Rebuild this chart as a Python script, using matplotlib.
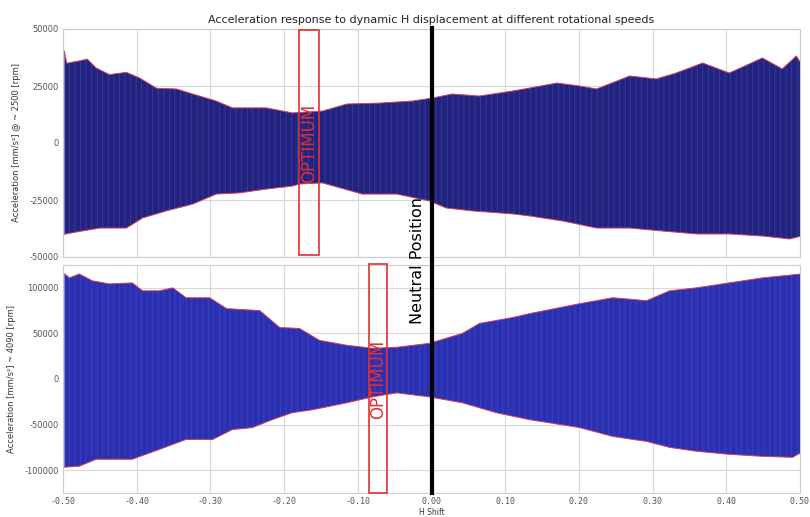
import matplotlib
matplotlib.use("Agg")
import matplotlib.pyplot as plt
from matplotlib.patches import Rectangle
import numpy as np

# ---- data: envelopes ----
top_up_x = [-0.498, -0.495, -0.478, -0.467, -0.455, -0.437, -0.414, -0.396, -0.373, -0.346,
            -0.324, -0.292, -0.270, -0.224, -0.189, -0.148, -0.115, -0.071, -0.026, 0.001,
            0.028, 0.065, 0.110, 0.133, 0.170, 0.201, 0.224, 0.269, 0.305, 0.332,
            0.368, 0.404, 0.449, 0.476, 0.495, 0.502]
top_up_y = [40300, 35000, 36000, 36800, 32900, 30000, 31000, 28500, 24000, 23700,
            21500, 18400, 15400, 15400, 13200, 14000, 17100, 17500, 18400, 19700,
            21500, 20600, 22800, 24100, 26300, 25000, 23700, 29400, 28100, 30700,
            35100, 30700, 37300, 32500, 38200, 34600]
top_lo_x = [-0.498, -0.474, -0.450, -0.414, -0.392, -0.360, -0.324, -0.292, -0.261, -0.224,
            -0.189, -0.179, -0.148, -0.094, -0.047, -0.003, 0.020, 0.056, 0.110, 0.133,
            0.178, 0.224, 0.269, 0.313, 0.360, 0.404, 0.449, 0.486, 0.502]
top_lo_y = [-40000, -38600, -37300, -37300, -32900, -29800, -26800, -22400, -21900, -20200,
            -18900, -18000, -17500, -22400, -22400, -25400, -28500, -29800, -31100, -32000,
            -34200, -37300, -37300, -38600, -39900, -39900, -40800, -42100, -40800]

bot_up_x = [-0.498, -0.491, -0.478, -0.460, -0.437, -0.406, -0.392, -0.369, -0.351, -0.333,
            -0.301, -0.278, -0.233, -0.206, -0.179, -0.152, -0.115, -0.080, -0.047, -0.003,
            0.042, 0.065, 0.110, 0.133, 0.201, 0.246, 0.292, 0.323, 0.360, 0.404,
            0.449, 0.502]
bot_up_y = [115200, 110900, 115200, 107600, 104300, 105400, 96700, 96700, 100000, 89100,
            89100, 77200, 75000, 56500, 55400, 42400, 37000, 33700, 34800, 39100,
            50000, 60900, 67400, 71700, 82600, 89100, 85900, 96700, 100000, 105400,
            110900, 115200]
bot_lo_x = [-0.498, -0.478, -0.455, -0.406, -0.369, -0.333, -0.297, -0.270, -0.243, -0.216,
            -0.189, -0.161, -0.115, -0.080, -0.047, -0.003, 0.042, 0.088, 0.133, 0.201,
            0.246, 0.292, 0.323, 0.360, 0.404, 0.449, 0.490, 0.502]
bot_lo_y = [-96700, -95700, -88000, -88000, -77200, -66300, -66300, -55400, -53300, -44600,
            -37000, -33700, -26100, -19600, -15200, -19600, -26100, -37000, -44600, -53300,
            -63000, -68500, -75000, -79300, -82600, -84800, -85900, -80400]

x_ticks = [-0.5, -0.4, -0.3, -0.2, -0.1, 0.0, 0.1, 0.2, 0.3, 0.4, 0.5]
top_yticks = [-50000, -25000, 0, 25000, 50000]
bot_yticks = [-100000, -50000, 0, 50000, 100000]

title = "Acceleration response to dynamic H displacement at different rotational speeds"
top_ylabel = "Acceleration [mm/s²] @ ~ 2500 [rpm]"
bot_ylabel = "Acceleration [mm/s²] ~ 4090 [rpm]"
xlabel = "H Shift"
opt_top = (-0.180, -0.153)
opt_bot = (-0.085, -0.060)

plt.rcParams['hatch.linewidth'] = 0.6

fig = plt.figure(figsize=(8.1, 5.17), dpi=100)
ax1 = fig.add_axes([63/810, 1-257/517, 737/810, 228/517])
ax2 = fig.add_axes([63/810, 1-493/517, 737/810, 228/517], sharex=ax1)


def draw(ax, ux, uy, lx, ly, face, stripe):
    xs = np.union1d(ux, lx)
    u = np.interp(xs, ux, uy)
    l = np.interp(xs, lx, ly)
    ax.fill_between(xs, l, u, facecolor=face, edgecolor=stripe, hatch='|||', linewidth=0, zorder=2)
    ax.plot(ux, uy, color='#d04060', lw=0.7, zorder=3)
    ax.plot(lx, ly, color='#d04060', lw=0.7, zorder=3)


draw(ax1, top_up_x, top_up_y, top_lo_x, top_lo_y, '#22237e', '#3a3c9c')
draw(ax2, bot_up_x, bot_up_y, bot_lo_x, bot_lo_y, '#2a30b0', '#3c44c4')

for ax in (ax1, ax2):
    ax.set_xlim(-0.5, 0.5)
    ax.grid(True, color='#d8d8d8', lw=0.8, zorder=0)
    ax.set_axisbelow(True)
    for s in ax.spines.values():
        s.set_color('#cccccc')
        s.set_linewidth(0.8)
    ax.tick_params(colors='#555555', labelsize=6, length=0, pad=3)
    ax.set_xticks(x_ticks)

ax1.set_ylim(-50000, 50000)
ax1.set_yticks(top_yticks)
ax1.set_yticklabels([str(v) for v in top_yticks], fontsize=6)
ax2.set_ylim(-125000, 125000)
ax2.set_yticks(bot_yticks)
ax2.set_yticklabels([str(v) for v in bot_yticks], fontsize=6)
plt.setp(ax1.get_xticklabels(), visible=False)
ax2.set_xticklabels(["%.2f" % v for v in x_ticks], family='DejaVu Sans Mono', fontsize=6)

ax1.set_ylabel(top_ylabel, fontsize=6, color='#333333', labelpad=6)
ax2.set_ylabel(bot_ylabel, fontsize=6, color='#333333', labelpad=6)
ax2.set_xlabel(xlabel, fontsize=5.5, color='#333333', labelpad=1)
ax1.set_title(title, fontsize=8, color='#222222', pad=4)

# neutral line across both axes
fig.add_artist(plt.Line2D([432/810, 432/810], [1-493/517, 1-28/517], color='black', lw=3))
fig.text(418/810, 1-260/517, "Neutral Position", rotation=90, ha='center', va='center',
         fontsize=11.5, color='black')

# optimum boxes
ax1.add_patch(Rectangle((opt_top[0], -49000), opt_top[1]-opt_top[0], 98500, fill=False,
                        edgecolor='#e03030', lw=1.2, zorder=6, clip_on=False))
ax1.text((opt_top[0]+opt_top[1])/2, 0, "OPTIMUM", rotation=90, ha='center', va='center',
         color='#e03030', fontsize=12, zorder=7)
ax2.add_patch(Rectangle((opt_bot[0], -124500), opt_bot[1]-opt_bot[0], 251000, fill=False,
                        edgecolor='#e03030', lw=1.2, zorder=6, clip_on=False))
ax2.text((opt_bot[0]+opt_bot[1])/2, 0, "OPTIMUM", rotation=90, ha='center', va='center',
         color='#e03030', fontsize=12, zorder=7)

fig.savefig("out.png", dpi=100)
